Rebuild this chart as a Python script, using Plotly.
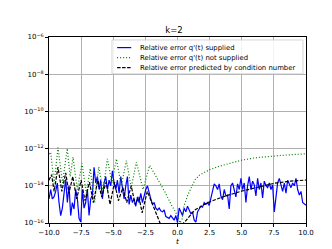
import numpy as np
import plotly.graph_objects as go

# Relative error with q'(t) supplied (log10 values, evenly spaced in t from -10 to 10)
blue_log10 = [
    -14.7, -14.2, -14.7, -14.6, -14.3, -13.85, -14.9, -15.6, -15.2, -14.2,
    -13.65, -14.9, -14.0, -15.6, -14.9, -15.25, -14.2, -14.7, -15.75, -15.95,
    -14.2, -15.2, -14.9, -14.2, -15.6, -14.7, -14.5, -13.0, -13.85, -13.5,
    -14.2, -13.7, -14.7, -13.85, -13.5, -14.2, -13.7, -14.0, -13.2, -13.85,
    -14.2, -13.7, -14.4, -13.5, -14.2, -14.7, -14.0, -13.5, -15.0, -14.5,
    -14.9, -14.7, -15.1, -14.6, -14.9, -14.4, -14.9, -14.5, -14.2, -14.0,
    -14.4, -14.7, -15.0, -14.9, -15.2, -15.3, -15.2, -15.35, -15.4, -15.3,
    -15.65, -15.7, -15.75, -15.6, -15.75, -15.85, -15.6, -15.98, -15.2, -15.45,
    -15.6, -15.2, -15.4, -15.1, -15.35, -15.5, -15.4, -15.85, -15.95, -15.4,
    -15.25, -15.1, -15.15, -14.9, -15.0, -14.9, -15.05, -14.7, -14.2, -13.9,
    -14.0, -14.2, -13.9, -14.55, -14.75, -14.2, -14.55, -14.5, -15.25, -14.0,
    -13.85, -14.2, -14.6, -13.9, -14.2, -13.6, -14.2, -13.85, -14.9, -14.0,
    -13.5, -14.2, -13.75, -13.95, -14.55, -13.6, -14.2, -13.85, -14.65, -13.75,
    -14.0, -14.1, -13.85, -14.2, -13.95, -15.4, -14.7, -13.85, -13.6, -14.0,
    -14.3, -13.85, -14.4, -13.7, -13.95, -14.1, -13.85, -14.0, -13.6, -14.2,
    -14.5, -14.3, -14.9, -15.0, -15.05,
]
blue_t = np.linspace(-10, 10, len(blue_log10))

# Relative error with q'(t) not supplied
green_t = [-10.0, -9.87, -9.6, -9.3, -8.95, -8.58, -8.35, -8.13, -7.8, -7.43,
           -7.1, -6.79, -6.45, -6.13, -5.8, -5.46, -5.1, -4.76, -4.37, -3.98,
           -3.6, -3.2, -2.68, -2.17, -1.0, -0.5, 0.0, 0.2, 0.35, 0.5,
           0.8, 1.0, 1.35, 1.7, 2.5, 3.3, 4.0, 5.0, 6.0, 7.0,
           8.0, 9.0, 10.0]
green_log10 = [-12.3, -12.2, -13.86, -11.95, -13.85, -12.0, -13.5, -12.46, -14.2, -12.8,
               -14.4, -13.07, -14.9, -12.98, -14.3, -12.55, -13.85, -12.55, -14.0, -12.64,
               -14.1, -12.73, -14.2, -12.9, -14.3, -15.0, -15.6, -16.0, -15.8, -15.1,
               -14.5, -14.2, -13.69, -13.43, -13.13, -12.94, -12.8, -12.62, -12.5, -12.42,
               -12.37, -12.32, -12.28]

# Relative error predicted by condition number
black_t = [-10.0, -9.8, -9.6, -9.3, -9.0, -8.7, -8.45, -8.15, -7.85, -7.5,
           -7.2, -6.85, -6.55, -6.2, -5.9, -5.55, -5.25, -4.9, -4.6, -4.25,
           -3.95, -3.6, -3.3, -3.0, -2.75, -2.35, -1.3, -1.0, 0.1, 0.3,
           0.56, 1.0, 1.34, 2.37, 3.5, 4.97, 6.3, 7.56, 8.8, 10.0]
black_log10 = [-13.7, -13.4, -14.3, -13.0, -14.3, -13.3, -14.4, -13.5, -14.7, -13.7,
               -14.8, -13.8, -14.9, -13.7, -14.6, -13.8, -15.0, -13.8, -14.8, -14.1,
               -14.9, -14.0, -15.0, -14.6, -15.45, -14.3, -16.1, -16.5, -16.5, -16.1,
               -15.95, -15.6, -15.3, -14.9, -14.6, -14.29, -14.05, -13.86, -13.75, -13.69]

series_names = ["Relative error q'(t) supplied",
                "Relative error q'(t) not supplied",
                "Relative error predicted by condition number"]
series_colors = ["#0000ff", "#008000", "#000000"]
series_dashes = ["solid", "1px,2px", "3.5px,1.5px"]

y_tick_exps = [-16, -14, -12, -10, -8, -6]
x_ticks = [-10.0, -7.5, -5.0, -2.5, 0.0, 2.5, 5.0, 7.5, 10.0]

def p10(vals):
    return [10.0 ** v for v in vals]

fig = go.Figure()
for tt, vv, nm, col, ds in zip([blue_t, green_t, black_t],
                               [blue_log10, green_log10, black_log10],
                               series_names, series_colors, series_dashes):
    fig.add_trace(go.Scatter(x=tt, y=p10(vv), mode="lines", name=nm,
                             line=dict(color=col, width=1.2, dash=ds)))

# Compact matplotlib-style legend drawn with shapes + annotations
L_x0, L_x1, L_y0, L_y1 = 0.245, 0.988, 0.802, 0.984
shapes = [dict(type="rect", xref="paper", yref="paper", x0=L_x0, x1=L_x1, y0=L_y0, y1=L_y1,
               line=dict(color="#cccccc", width=0.8), fillcolor="rgba(255,255,255,0.85)",
               layer="above")]
annotations = []
row_y = [0.943, 0.889, 0.835]
for yy, nm, col, ds in zip(row_y, series_names, series_colors, series_dashes):
    shapes.append(dict(type="line", xref="paper", yref="paper", x0=0.265, x1=0.32, y0=yy, y1=yy,
                       line=dict(color=col, width=1.2, dash=ds), layer="above"))
    annotations.append(dict(text=nm, xref="paper", yref="paper", x=0.345, y=yy,
                            xanchor="left", yanchor="middle", showarrow=False,
                            font=dict(family="DejaVu Sans", size=6.9, color="#000000")))

fig.update_layout(
    width=332, height=249,
    margin=dict(l=41, r=34, t=29, b=28),
    paper_bgcolor="white", plot_bgcolor="white",
    font=dict(family="DejaVu Sans", size=7, color="#000000"),
    title=dict(text="k=2", x=0.5, xanchor="center", y=0.912, yanchor="middle",
               font=dict(family="DejaVu Sans", size=8.5, color="#000000")),
    showlegend=False,
    shapes=shapes,
    annotations=annotations,
    xaxis=dict(range=[-10, 10], tickvals=x_ticks,
               ticktext=["\u221210.0", "\u22127.5", "\u22125.0", "\u22122.5", "0.0", "2.5", "5.0", "7.5", "10.0"],
               showgrid=True, gridcolor="#b0b0b0", gridwidth=0.6,
               showline=True, linecolor="black", linewidth=1, mirror=True,
               ticks="outside", ticklen=3, tickcolor="black", zeroline=False,
               title=dict(text="<i>t</i>", font=dict(family="DejaVu Sans", size=7.5), standoff=2)),
    yaxis=dict(type="log", range=[-16, -6],
               tickvals=[10.0 ** e for e in y_tick_exps],
               ticktext=["10<sup>\u2212%d</sup>" % (-e) for e in y_tick_exps],
               showgrid=True, gridcolor="#b0b0b0", gridwidth=0.6,
               showline=True, linecolor="black", linewidth=1, mirror=True,
               ticks="outside", ticklen=3, tickcolor="black", zeroline=False),
)

fig.write_html("out.html")
